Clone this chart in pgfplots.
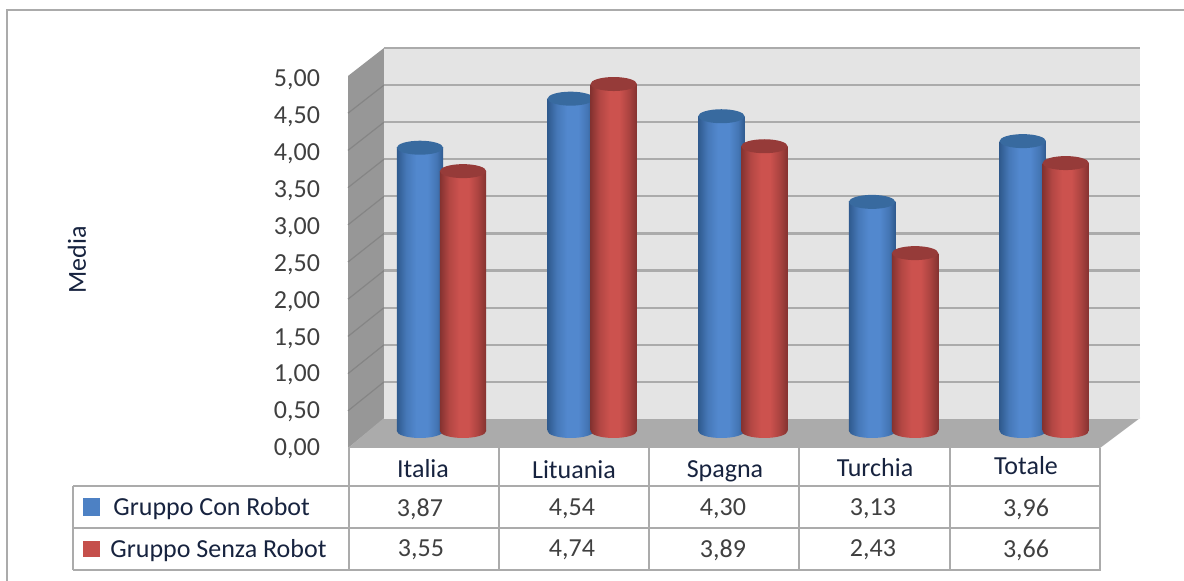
\documentclass[border=0pt]{standalone}
\usepackage{fontspec}
\setmainfont{Carlito}
\usepackage{pgfplots}
\usepackage{pgfplotstable}
\pgfplotsset{compat=1.18}

% Cylinder shadings: the bar's bounding box spans 25bp to 75bp
\definecolor{blueedge}{HTML}{2F5A8E}
\definecolor{bluelight}{HTML}{5288CE}
\definecolor{bluecap}{HTML}{386A9F}
\definecolor{rededge}{HTML}{843230}
\definecolor{redlight}{HTML}{CC524E}
\definecolor{redcap}{HTML}{963B39}
\pgfdeclarehorizontalshading{cylblue}{100bp}{
  color(0bp)=(blueedge); color(25bp)=(blueedge); color(35bp)=(bluelight!65!blueedge);
  color(46bp)=(bluelight); color(58bp)=(bluelight); color(68bp)=(bluelight!60!blueedge);
  color(75bp)=(blueedge); color(100bp)=(blueedge)}
\pgfdeclarehorizontalshading{cylred}{100bp}{
  color(0bp)=(rededge); color(25bp)=(rededge); color(35bp)=(redlight!65!rededge);
  color(46bp)=(redlight); color(56bp)=(redlight); color(66bp)=(redlight!55!rededge);
  color(75bp)=(rededge); color(100bp)=(rededge)}

% Elliptic ends of the cylinders
\pgfdeclareplotmark{capblue}{\fill[bluecap,draw=none,rotate=5] (0pt,0pt) ellipse [x radius=11.6pt,y radius=3.5pt];}
\pgfdeclareplotmark{capred}{\fill[redcap,draw=none,rotate=5] (0pt,0pt) ellipse [x radius=11.6pt,y radius=3.5pt];}
\pgfdeclareplotmark{baseblue}{\shade[shading=cylblue,draw=none,rotate=5] (0pt,0pt) ellipse [x radius=11.6pt,y radius=3.5pt];}
\pgfdeclareplotmark{basered}{\shade[shading=cylred,draw=none,rotate=5] (0pt,0pt) ellipse [x radius=11.6pt,y radius=3.5pt];}

\pgfplotstableread{
idx con senza
0 3.87 3.55
1 4.54 4.74
2 4.30 3.89
3 3.13 2.43
4 3.96 3.66
}\mediatable

\definecolor{linegray}{HTML}{ABABAB}
\definecolor{wallback}{HTML}{E4E4E4}
\definecolor{wallside}{HTML}{979797}
\definecolor{wallfloor}{HTML}{ABABAB}
\definecolor{wallline}{HTML}{858585}
\definecolor{numtext}{HTML}{404040}
\definecolor{labeltext}{HTML}{17233F}
\newcommand{\chartfont}{\fontsize{13}{13}\selectfont}

\begin{document}
\begin{tikzpicture}[x=0.5pt,y=-0.5pt,font=\chartfont]
\useasboundingbox (0,0) rectangle (1184,581);
\fill[white] (0,0) rectangle (1184,581);

% Outer frame
\draw[linegray,line width=1pt] (7,581) -- (7,10) -- (1184,10);

% Side wall and floor
\fill[wallside] (348,76) -- (384,48) -- (384,419) -- (348,448) -- cycle;
\foreach \i in {1,...,9}{
  \draw[wallline,line width=0.6pt] (348,{448-37.2*\i}) -- (384,{419-37.1*\i});
}
\fill[wallfloor] (348,448) -- (384,418) -- (1140,418) -- (1100,448) -- cycle;

% Back wall with its gridlines
\begin{axis}[
  at={(192pt,-209.5pt)}, anchor=south west, scale only axis,
  width=378pt, height=185.5pt,
  xmin=0, xmax=1, ymin=0, ymax=5,
  xtick=\empty, ytick={0.5,1,...,5},
  yticklabels={}, major tick length=0pt,
  axis line style={draw=none},
  ymajorgrids,
  grid style={linegray,line width=1.1pt},
  axis background/.style={fill=wallback},
]
\end{axis}

% Value scale on the front plane
\begin{axis}[
  at={(174.5pt,-224.5pt)}, anchor=south west, scale only axis,
  width=375.5pt, height=184.5pt,
  xmin=0, xmax=1, ymin=0, ymax=5,
  xtick=\empty, ytick={0,0.5,...,5},
  major tick length=0pt,
  axis x line=none, axis y line*=left, y axis line style={draw=none},
  yticklabel style={
    /pgf/number format/.cd, fixed, fixed zerofill, precision=2, use comma, assume math mode=true,
    /tikz/.cd, font=\chartfont, text=numtext, xshift=-11pt},
]
\end{axis}

% Cylinders: base, shaded body, cap for each category in turn
\begin{axis}[
  at={(174.5pt,-215.5pt)}, anchor=south west, scale only axis,
  width=375.5pt, height=183pt,
  xmin=-0.614, xmax=4.37, ymin=0, ymax=5,
  hide axis, clip=false, clip mode=individual,
]
\addplot[only marks,mark=baseblue] table[x expr=\thisrow{idx}-0.1427,y expr=0] {\mediatable};
\pgfplotsinvokeforeach{0,...,4}{
  \addplot[ybar,bar width=23.2pt,bar shift=-10.75pt,draw=none,shading=cylblue,
           restrict x to domain=#1:#1] table[x=idx,y=con] {\mediatable};
}
\addplot[only marks,mark=capblue] table[x expr=\thisrow{idx}-0.1427,y=con] {\mediatable};
\addplot[only marks,mark=basered] table[x expr=\thisrow{idx}+0.1427,y expr=0] {\mediatable};
\pgfplotsinvokeforeach{0,...,4}{
  \addplot[ybar,bar width=23.2pt,bar shift=10.75pt,draw=none,shading=cylred,
           restrict x to domain=#1:#1] table[x=idx,y=senza] {\mediatable};
}
\addplot[only marks,mark=capred] table[x expr=\thisrow{idx}+0.1427,y=senza] {\mediatable};
\end{axis}

% Data table grid
\draw[linegray,line width=1pt]
  (349,448) -- (349,570)
  (499,448) -- (499,570)
  (649,448) -- (649,570)
  (799,448) -- (799,570)
  (950,448) -- (950,570)
  (1100,448) -- (1100,570)
  (73,486) -- (1101,486)
  (73,528) -- (1101,528)
  (73,570) -- (1101,570)
  (73,486) -- (73,570);

% Category names
\node[text=labeltext] at (423,469) {Italia};
\node[text=labeltext] at (574,470) {Lituania};
\node[text=labeltext] at (725,471) {Spagna};
\node[text=labeltext] at (875,468) {Turchia};
\node[text=labeltext] at (1026,466) {Totale};

% Series keys
\fill[bluelight!85!blueedge] (83,498) rectangle (100,516);
\fill[redlight!90!rededge] (83,541) rectangle (100,557);
\node[text=labeltext,anchor=west,inner sep=0pt] at (113,509) {Gruppo Con Robot};
\node[text=labeltext,anchor=west,inner sep=0pt] at (110,551) {Gruppo Senza Robot};

% Table values
\foreach \x/\v in {420/3{,}87,572/4{,}54,723/4{,}30,873/3{,}13,1026/3{,}96}{
  \node[text=numtext] at (\x,509) {\v};
}
\foreach \x/\v in {421/3{,}55,572/4{,}74,723/3{,}89,873/2{,}43,1026/3{,}66}{
  \node[text=numtext] at (\x,550) {\v};
}

% Axis title
\node[text=labeltext,rotate=90] at (77,260) {Media};
\end{tikzpicture}
\end{document}
